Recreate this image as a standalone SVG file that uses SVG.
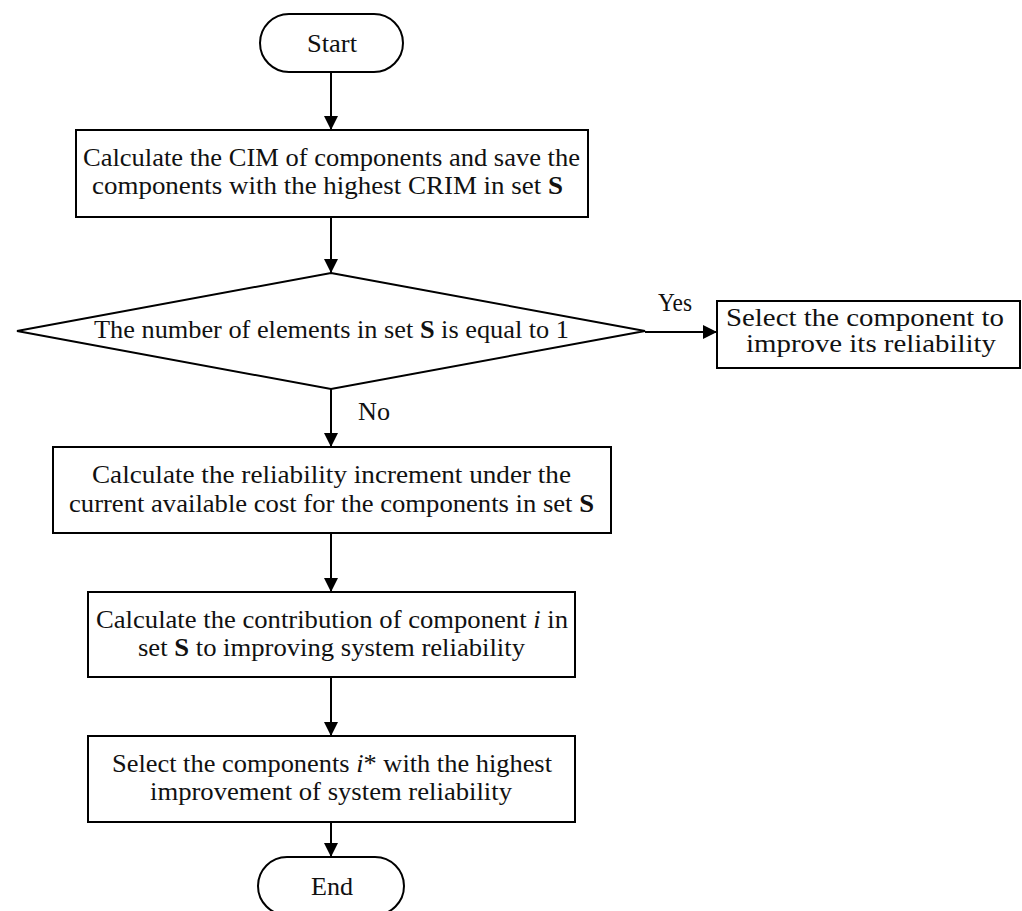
<svg xmlns="http://www.w3.org/2000/svg" width="1022" height="911" viewBox="0 0 1022 911">
<defs>
<style>
.shape{fill:#fff;stroke:#000;stroke-width:2}
.t{font-family:"Liberation Serif","Times New Roman",serif;font-size:25px;fill:#111}
.c{stroke:#000;stroke-width:2;fill:none}
</style>
<marker id="arr" markerUnits="userSpaceOnUse" markerWidth="16" markerHeight="16" refX="14" refY="7" orient="auto">
<path d="M0,0 L14,7 L0,14 Z" fill="#000"/>
</marker>
</defs>
<rect width="1022" height="911" fill="#fff"/>
<g id="connectors">
<line class="c" x1="331" y1="72" x2="331" y2="130" marker-end="url(#arr)"/>
<line class="c" x1="331" y1="217" x2="331" y2="273" marker-end="url(#arr)"/>
<line class="c" x1="331" y1="389" x2="331" y2="447" marker-end="url(#arr)"/>
<line class="c" x1="331" y1="533" x2="331" y2="592" marker-end="url(#arr)"/>
<line class="c" x1="331" y1="677" x2="331" y2="736" marker-end="url(#arr)"/>
<line class="c" x1="331" y1="822" x2="331" y2="857" marker-end="url(#arr)"/>
<line class="c" x1="645" y1="332" x2="717" y2="332" marker-end="url(#arr)"/>
<text class="t" x="658" y="311" textLength="34" lengthAdjust="spacingAndGlyphs">Yes</text>
<text class="t" x="358" y="420" textLength="32" lengthAdjust="spacingAndGlyphs">No</text>
</g>
<g id="start">
<rect class="shape" x="260" y="14" width="143" height="58" rx="29"/>
<text class="t" x="307" y="52" textLength="50" lengthAdjust="spacingAndGlyphs">Start</text>
</g>
<g id="box1">
<rect class="shape" x="76" y="130" width="512" height="87"/>
<text class="t" x="83" y="166" textLength="497" lengthAdjust="spacingAndGlyphs">Calculate the CIM of components and save the</text>
<text class="t" x="92" y="194" textLength="471" lengthAdjust="spacingAndGlyphs">components with the highest CRIM in set <tspan font-weight="bold">S</tspan></text>
</g>
<g id="decision">
<polygon class="shape" points="331,273 645,331 331,389 17,331"/>
<text class="t" x="94" y="338" textLength="475" lengthAdjust="spacingAndGlyphs">The number of elements in set <tspan font-weight="bold">S</tspan> is equal to 1</text>
</g>
<g id="select-one">
<rect class="shape" x="717" y="301" width="303" height="67"/>
<text class="t" x="726" y="326" textLength="278" lengthAdjust="spacingAndGlyphs">Select the component to</text>
<text class="t" x="746" y="352" textLength="250" lengthAdjust="spacingAndGlyphs">improve its reliability</text>
</g>
<g id="box2">
<rect class="shape" x="53" y="447" width="558" height="86"/>
<text class="t" x="92" y="483" textLength="479" lengthAdjust="spacingAndGlyphs">Calculate the reliability increment  under the</text>
<text class="t" x="69" y="512" textLength="525" lengthAdjust="spacingAndGlyphs">current available cost for the components in set <tspan font-weight="bold">S</tspan></text>
</g>
<g id="box3">
<rect class="shape" x="88" y="592" width="487" height="85"/>
<text class="t" x="96" y="628" textLength="472" lengthAdjust="spacingAndGlyphs">Calculate the contribution of component <tspan font-style="italic">i</tspan> in</text>
<text class="t" x="138" y="656" textLength="387" lengthAdjust="spacingAndGlyphs">set <tspan font-weight="bold">S</tspan> to improving system reliability</text>
</g>
<g id="box4">
<rect class="shape" x="88" y="736" width="487" height="86"/>
<text class="t" x="112" y="772" textLength="440" lengthAdjust="spacingAndGlyphs">Select the components <tspan font-style="italic">i</tspan>* with the highest</text>
<text class="t" x="150" y="800" textLength="362" lengthAdjust="spacingAndGlyphs">improvement of system reliability</text>
</g>
<g id="end">
<rect class="shape" x="258" y="857" width="146" height="58" rx="29"/>
<text class="t" x="311" y="895" textLength="42" lengthAdjust="spacingAndGlyphs">End</text>
</g>
</svg>
